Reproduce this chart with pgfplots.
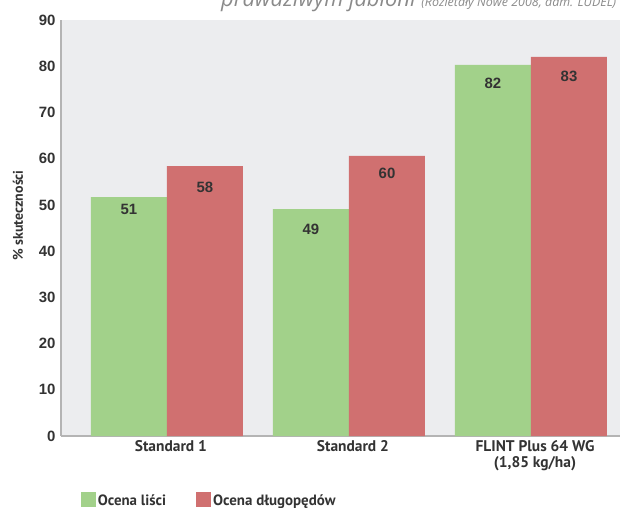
\documentclass[border=0pt]{standalone}
\usepackage{pgfplots}
\pgfplotsset{compat=1.18}
\usepackage{fontspec}
\setmainfont{Liberation Sans}
\newfontfamily\catfont{PT Sans}
\newfontfamily\titfont{Open Sans}
\definecolor{bgc}{HTML}{ECEDEF}
\definecolor{gr}{HTML}{A2D18A}
\definecolor{rd}{HTML}{D07070}
\definecolor{axc}{HTML}{B4B4B4}
\definecolor{txt}{HTML}{333333}
\definecolor{tit}{HTML}{8A8A8A}
\begin{document}
\begin{tikzpicture}
\begin{axis}[
  name=ax,
  at={(0,0)}, anchor=south west,
  scale only axis,
  width=559bp, height=416bp,
  xmin=-0.582, xmax=2.489,
  ymin=0, ymax=90,
  axis lines*=left,
  axis line style={axc, line width=2bp},
  axis background/.style={fill=bgc},
  xtick={0,1,2},
  xticklabels={Standard 1, Standard 2, {FLINT Plus 64 WG\\(1,85 kg/ha)}},
  xticklabel style={font=\catfont\bfseries\fontsize{15.5}{16}\selectfont, text=txt, align=center, yshift=-1bp, xshift=4bp},
  ytick={0,10,...,90},
  yticklabel style={font=\bfseries\fontsize{15}{16}\selectfont, text=txt, xshift=-2bp},
  /pgf/number format/assume math mode=true,
  major tick length=0pt,
  ylabel={\% skuteczności},
  ylabel style={font=\catfont\bfseries\fontsize{14}{15}\selectfont, text=txt, at={(ticklabel cs:0.53)}, yshift=9bp},
  clip=false,
  legend style={at={(rel axis cs:0.035,-0.133)}, anchor=north west, draw=none, fill=none,
    font=\catfont\bfseries\fontsize{15}{16}\selectfont, text=txt, legend columns=2,
    /tikz/every even column/.append style={column sep=28bp}, inner sep=0pt},
  legend cell align=left,
]
\addplot[ybar, bar width=76bp, bar shift=-38bp, fill=gr, draw=none, area legend,
  legend image code/.code={\fill[gr] (0bp,-6bp) rectangle (15bp,9bp);}]
  coordinates {(0,51.7) (1,49.1) (2,80.3)};
\addlegendentry{Ocena liści}
\addplot[ybar, bar width=76bp, bar shift=38bp, fill=rd, draw=none, area legend,
  legend image code/.code={\fill[rd] (0bp,-6bp) rectangle (15bp,9bp);}]
  coordinates {(0,58.4) (1,60.6) (2,82.0)};
\addlegendentry{Ocena długopędów}
\addplot[draw=none, mark=none, forget plot, nodes near coords, point meta=explicit symbolic,
  nodes near coords align=center,
  every node near coord/.append style={font=\bfseries\fontsize{15}{16}\selectfont, text=txt}]
  table[meta=lab] {
x y lab
-0.209 49.1 51
0.209 53.9 58
0.791 44.8 49
1.209 56.9 60
1.791 76.4 82
2.209 77.7 83
};
\end{axis}
\node[anchor=base west, font=\titfont\itshape, text=tit, inner sep=0pt] at (160bp,429bp)
  {\fontsize{22}{24}\selectfont prawdziwym jabłoni \fontsize{12.5}{14}\selectfont (Rozietały Nowe 2008, dam. LUDEL)};
\pgfresetboundingbox
\path[use as bounding box] (-61bp,-72bp) rectangle (559bp,436bp);
\end{tikzpicture}
\end{document}
